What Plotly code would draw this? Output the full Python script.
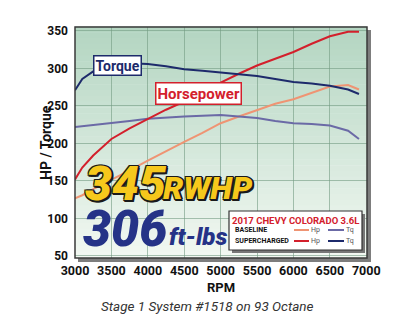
import plotly.graph_objects as go

# ---------------- data ----------------
rpm = [3000, 3100, 3250, 3500, 3750, 4000, 4250, 4500, 4750, 5000, 5250, 5500, 5750, 6000, 6250, 6500, 6750, 6900]
sc_tq = [271, 286, 296, 306, 307, 306, 303, 299, 297, 295, 293, 290, 286, 282, 280, 277, 272, 266]
sc_hp = [152, 168, 184, 206, 220, 233, 245, 256, 269, 281, 293, 304, 313, 322, 333, 343, 349, 349]
base_tq = [222, 223, 224, 227, 230, 233, 235, 236, 237, 238, 236, 234, 230, 227, 226, 224, 217, 206]
base_hp = [127, 131, 139, 151, 164, 177, 190, 202, 214, 227, 236, 245, 253, 259, 268, 276, 278, 272]

x_ticks = [3000, 3500, 4000, 4500, 5000, 5500, 6000, 6500, 7000]
y_ticks = [50, 100, 150, 200, 250, 300, 350]

C_SC_TQ = "#1d2a6b"
C_BASE_TQ = "#6b6aa6"
C_SC_HP = "#d3202c"
C_BASE_HP = "#ef9473"

W, H = 400, 329
L, R, T, B = 75, 367, 27, 258


def px(xp):
    return (xp - L) / (R - L)


def py(yp):
    return (B - yp) / (B - T)


fig = go.Figure()
fig.add_trace(go.Scatter(x=rpm, y=base_hp, mode="lines", line=dict(color=C_BASE_HP, width=2), name="Baseline Hp"))
fig.add_trace(go.Scatter(x=rpm, y=base_tq, mode="lines", line=dict(color=C_BASE_TQ, width=2), name="Baseline Tq"))
fig.add_trace(go.Scatter(x=rpm, y=sc_hp, mode="lines", line=dict(color=C_SC_HP, width=2), name="Supercharged Hp"))
fig.add_trace(go.Scatter(x=rpm, y=sc_tq, mode="lines", line=dict(color=C_SC_TQ, width=2), name="Supercharged Tq"))

shapes = []
# gradient bands
n = 40
top = (180, 214, 194)
bot = (242, 248, 242)
for i in range(n):
    f = i / (n - 1)
    c = tuple(int(top[k] + (bot[k] - top[k]) * f) for k in range(3))
    shapes.append(dict(type="rect", xref="paper", yref="paper", x0=0, x1=1,
                       y0=1 - (i + 1) / n, y1=1 - i / n + 0.002,
                       fillcolor="rgb(%d,%d,%d)" % c, line=dict(width=0), layer="below"))
# shadow strips of plot frame (right and bottom)
shapes.append(dict(type="rect", xref="paper", yref="paper", x0=px(R), x1=px(R + 4),
                   y0=py(B + 4), y1=py(T + 3), fillcolor="#7d7d7d", line=dict(width=0), layer="above"))
shapes.append(dict(type="rect", xref="paper", yref="paper", x0=px(L + 3), x1=px(R + 4),
                   y0=py(B + 4), y1=py(B), fillcolor="#7d7d7d", line=dict(width=0), layer="above"))
# frame
shapes.append(dict(type="rect", xref="paper", yref="paper", x0=0, x1=1, y0=0, y1=1,
                   line=dict(color="#3a3a3a", width=1.5), layer="above"))

# legend box
lx0, lx1, ly0, ly1 = 229, 362, 211, 250
shapes.append(dict(type="rect", xref="paper", yref="paper", x0=px(lx0 + 3), x1=px(lx1 + 3),
                   y0=py(ly1 + 3), y1=py(ly0 + 3), fillcolor="#777777", line=dict(width=0), layer="above"))
shapes.append(dict(type="rect", xref="paper", yref="paper", x0=px(lx0), x1=px(lx1),
                   y0=py(ly1), y1=py(ly0), fillcolor="white", line=dict(color="#333333", width=1.2), layer="above"))
for (x0, x1, yy, col) in [(294, 309, 230, C_BASE_HP), (328, 344, 230, C_BASE_TQ),
                          (294, 309, 241, C_SC_HP), (328, 344, 241, C_SC_TQ)]:
    shapes.append(dict(type="line", xref="paper", yref="paper", x0=px(x0), x1=px(x1),
                       y0=py(yy), y1=py(yy), line=dict(color=col, width=2), layer="above"))

ann = []


def A(text, x, y, size, color, family="Roboto", weight="bold", style="normal", xa="center", ya="middle", **kw):
    ann.append(dict(text=text, x=px(x), y=py(y), xref="paper", yref="paper", showarrow=False,
                    xanchor=xa, yanchor=ya,
                    font=dict(size=size, color=color, family=family, weight=weight, style=style, **kw.pop("fkw", {})),
                    **kw))


A("Torque", 117, 65, 14, C_SC_TQ, bgcolor="white", bordercolor=C_SC_TQ, borderwidth=1.5, borderpad=1)
A("Horsepower", 198, 94, 15, C_SC_HP, bgcolor="white", bordercolor=C_SC_HP, borderwidth=1.5, borderpad=1)
outline = "2px 2px 0 #1a1a1a, -1px -1px 0 #1a1a1a, 1px -1px 0 #1a1a1a, -1px 1px 0 #1a1a1a, 2px 0 0 #1a1a1a, 0 2px 0 #1a1a1a"
A("345", 126, 183, 48, "#f6c81c", weight=900, style="italic", fkw=dict(shadow=outline))
A("RWHP", 208, 188, 32, "#f6c81c", weight=900, style="italic", fkw=dict(shadow=outline))
A("306", 125, 229, 50, "#253387", weight=900, style="italic")
A("ft-lbs", 198, 237, 24, "#253387", weight=900, style="italic")
A("2017 CHEVY COLORADO 3.6L", 295, 220, 9.5, "#d3202c")
A("BASELINE", 233, 230, 7, "#111111", xa="left")
A("SUPERCHARGED", 233, 241, 7, "#111111", xa="left")
for (x, yy, t) in [(315, 230, "Hp"), (350, 230, "Tq"), (315, 241, "Hp"), (350, 241, "Tq")]:
    A(t, x, yy, 7, "#555555", weight="normal")
A("RPM", 221, 287, 13, "#111111")
A("Stage 1 System #1518 on 93 Octane", 207, 306, 13.5, "#333333", family="Liberation Sans Narrow, Roboto", weight="normal", style="italic")
ann.append(dict(text="HP / Torque", x=px(36), y=py(143), xref="paper", yref="paper", showarrow=False,
                textangle=-90, font=dict(size=14, color="#111111", family="Roboto", weight="bold")))

fig.update_layout(
    width=W, height=H, margin=dict(l=L, r=W - R, t=T, b=H - B),
    paper_bgcolor="white", plot_bgcolor="rgba(0,0,0,0)",
    showlegend=False, shapes=shapes, annotations=ann,
    xaxis=dict(range=[3000, 7010], tickvals=x_ticks, ticktext=[str(v) for v in x_ticks],
               showgrid=True, gridcolor="rgba(115,155,130,0.6)", gridwidth=1, zeroline=False,
               tickfont=dict(size=12.5, family="Roboto", weight="bold", color="#111111"), ticks="", ticklabelstandoff=3),
    yaxis=dict(range=[47.3, 355.3], tickvals=y_ticks, ticktext=[str(v) for v in y_ticks],
               showgrid=True, gridcolor="rgba(115,155,130,0.6)", gridwidth=1, zeroline=False,
               tickfont=dict(size=12, family="Roboto", weight="bold", color="#111111"), ticks="", ticklabelstandoff=6),
)
fig.write_html("out.html")
